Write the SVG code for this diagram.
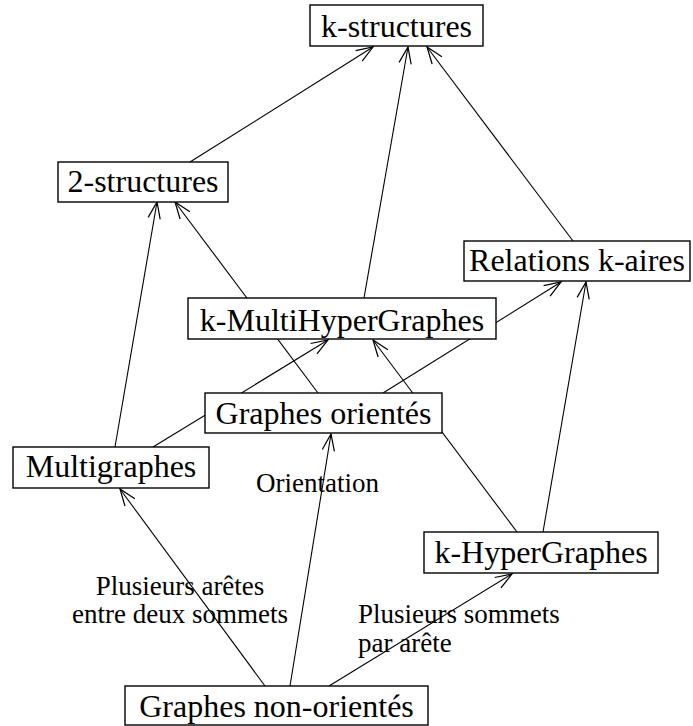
<svg xmlns="http://www.w3.org/2000/svg" width="693" height="726" viewBox="0 0 693 726">
<defs>
<marker id="arr" markerWidth="20" markerHeight="20" refX="0" refY="0" viewBox="-16 -8 18 16" markerUnits="userSpaceOnUse" orient="auto">
<path d="M -15 -5.5 L 0 0 L -15 5.5" fill="none" stroke="#000" stroke-width="1.1"/>
</marker>
<style>
.box{fill:#fff;stroke:#000;stroke-width:1.4}
.nt{font-family:"Liberation Serif","Times New Roman",serif;font-size:32px;text-anchor:middle;fill:#000}
.lb{font-family:"Liberation Serif","Times New Roman",serif;font-size:27px;fill:#000}
.ed{stroke:#000;stroke-width:1.1;fill:none;marker-end:url(#arr)}
</style>
</defs>
<rect width="693" height="726" fill="#fff"/>
<g id="connectors">
<line class="ed" x1="190" y1="162" x2="373" y2="47"/>
<line class="ed" x1="364" y1="298" x2="408" y2="47"/>
<line class="ed" x1="573" y1="241" x2="427" y2="47"/>
<line class="ed" x1="115" y1="447" x2="157" y2="202"/>
<line class="ed" x1="318" y1="393" x2="175" y2="202"/>
<line class="ed" x1="153" y1="447" x2="328" y2="340"/>
<line class="ed" x1="383" y1="393" x2="561" y2="282"/>
<line class="ed" x1="517" y1="532" x2="373" y2="340"/>
<line class="ed" x1="543" y1="532" x2="586" y2="282"/>
<line class="ed" x1="265" y1="686" x2="120" y2="489"/>
<line class="ed" x1="290" y1="686" x2="331" y2="434"/>
<line class="ed" x1="329" y1="686" x2="512" y2="574"/>
<text class="lb" x="256" y="492">Orientation</text>
<text class="lb" x="180" y="595" text-anchor="middle">Plusieurs arêtes</text>
<text class="lb" x="180" y="623" text-anchor="middle">entre deux sommets</text>
<text class="lb" x="358" y="623">Plusieurs sommets</text>
<text class="lb" x="358" y="652">par arête</text>
</g>
<g id="n-kstructures"><rect class="box" x="310" y="5" width="173" height="41"/><text class="nt" x="396.5" y="37">k-structures</text></g>
<g id="n-2structures"><rect class="box" x="58" y="162" width="170" height="40"/><text class="nt" x="143" y="192">2-structures</text></g>
<g id="n-relations"><rect class="box" x="464" y="241" width="226" height="40"/><text class="nt" x="577" y="271">Relations k-aires</text></g>
<g id="n-kmultihyper"><rect class="box" x="188" y="298" width="308" height="41"/><text class="nt" x="342" y="331">k-MultiHyperGraphes</text></g>
<g id="n-orientes"><rect class="box" x="205" y="393" width="237" height="40"/><text class="nt" x="323.5" y="424">Graphes orientés</text></g>
<g id="n-multigraphes"><rect class="box" x="13" y="447" width="196" height="41"/><text class="nt" x="111" y="477">Multigraphes</text></g>
<g id="n-khyper"><rect class="box" x="424" y="532" width="234" height="41"/><text class="nt" x="541" y="563">k-HyperGraphes</text></g>
<g id="n-nonorientes"><rect class="box" x="125" y="686" width="303" height="39"/><text class="nt" x="276.5" y="717">Graphes non-orientés</text></g>
</svg>
